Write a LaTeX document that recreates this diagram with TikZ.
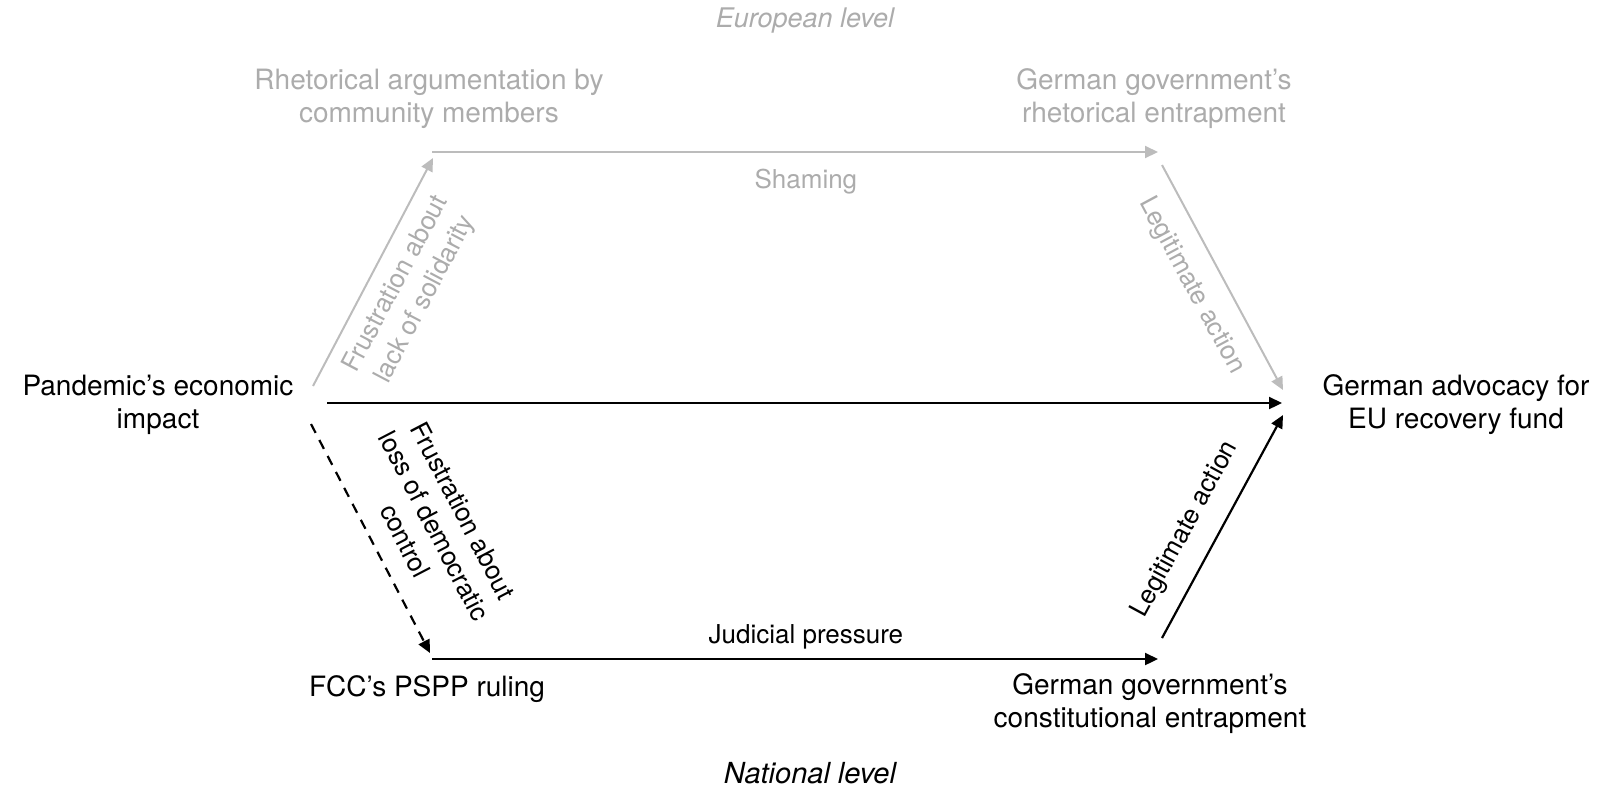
\documentclass[tikz,border=0pt]{standalone}
\usepackage{fontspec}
\setmainfont{TeX Gyre Heros}
\usetikzlibrary{arrows.meta}
\definecolor{faded}{RGB}{188,188,188}
\definecolor{fadedtext}{RGB}{172,172,172}

\begin{document}
\begin{tikzpicture}[x=0.5pt, y=-0.5pt, line join=round,
	box/.style={align=center, font=\fontsize{14}{16.5}\selectfont},
	elabel/.style={align=center, font=\fontsize{13}{16.25}\selectfont, inner sep=3pt},
	level/.style={font=\fontsize{13.5}{16}\selectfont\itshape},
	link/.style={line width=1.1pt, -{Triangle[length=6.5pt,width=6pt]}},
	ghost/.style={draw=faded, line width=1pt}]
	\useasboundingbox (0,0) rectangle (1599,799);
	% arrow ends
	\foreach \x/\y/\t in {313/386/P1,327/403/P2,311/424/P3,433/158/R1,432/152/R2,1158/152/E1,1162/165/E2,1283/390/A1,1282/403/A2,1283/415/A3,430/653/F1,432/659/F2,1158/659/C1,1162/638/C2}
	\coordinate (\t) at (\x,\y);
	% texts
	\node[box] (pan) at (158,405) {Pandemic’s economic\\impact};
	\node[box] (adv) at (1456,405) {German advocacy for\\EU recovery fund};
	\node[box, text=fadedtext] (rhet) at (429,99) {Rhetorical argumentation by\\community members};
	\node[box, text=fadedtext] (rent) at (1154,99) {German government’s\\rhetorical entrapment};
	\node[box] (fcc) at (427,689) {FCC’s PSPP ruling};
	\node[box] (cent) at (1150,704) {German government’s\\constitutional entrapment};
	\node[level, text=fadedtext] (eu) at (805,21) {European level};
	\node[level, font=\fontsize{14.5}{17}\selectfont\itshape] (nat) at (810,773) {National level};
	% european path
	\draw[link, ghost] (P1) -- (R1) node[elabel, text=fadedtext, midway, sloped, below=3.6pt] {Frustration about\\lack of solidarity};
	\draw[link, ghost] (R2) -- (E1) node[elabel, text=fadedtext, pos=0.515, below=5pt] {Shaming};
	\draw[link, ghost] (E2) -- (A1) node[elabel, text=fadedtext, pos=0.47, sloped, below=6pt] {Legitimate action};
	% direct
	\draw[link] (P2) -- (A2);
	% national path
	\draw[link, dash pattern=on 5pt off 4pt] (P3) -- (F1) node[elabel, pos=0.57, sloped, above=6.6pt] {Frustration about\\loss of democratic\\control};
	\draw[link] (F2) -- (C1) node[elabel, pos=0.515, above=1.4pt] {Judicial pressure};
	\draw[link] (C2) -- (A3) node[elabel, pos=0.42, sloped, above=6pt] {Legitimate action};
\end{tikzpicture}
\end{document}
